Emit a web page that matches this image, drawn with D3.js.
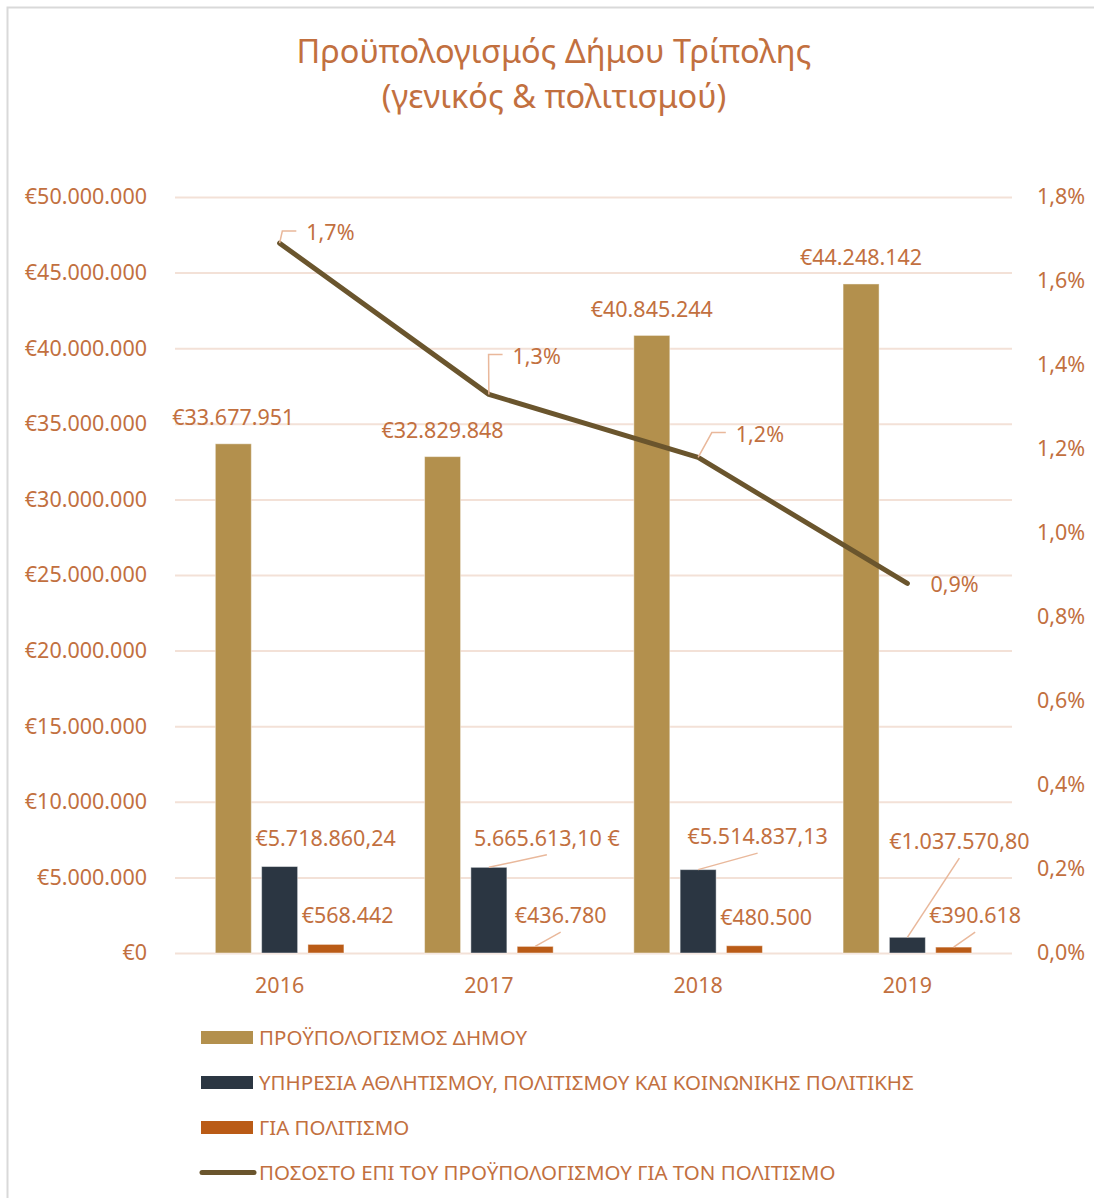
<!DOCTYPE html>
<html>
<head>
<meta charset="utf-8">
<script src="https://cdn.jsdelivr.net/npm/d3@7"></script>
<style>
  body { margin: 0; background: #fff; }
  svg { display: block; font-family: "Noto Sans", "Open Sans", sans-serif; }
</style>
</head>
<body>
<svg id="chart" width="1094" height="1198"></svg>
<script>
// data
var years = ["2016", "2017", "2018", "2019"];
var budget = [33677951, 32829848, 40845244, 44248142];
var sports = [5718860.24, 5665613.10, 5514837.13, 1037570.80];
var culture = [568442, 436780, 480500, 390618];
var share = [1.69, 1.33, 1.18, 0.88];   // % of budget for culture
var sportsLabels = ["€5.718.860,24", "5.665.613,10 €", "€5.514.837,13", "€1.037.570,80"];
var leftTicks = [0, 5e6, 10e6, 15e6, 20e6, 25e6, 30e6, 35e6, 40e6, 45e6, 50e6];
var rightTicks = [0, 0.2, 0.4, 0.6, 0.8, 1.0, 1.2, 1.4, 1.6, 1.8];
var seriesNames = ["ΠΡΟΫΠΟΛΟΓΙΣΜΟΣ ΔΗΜΟΥ",
  "ΥΠΗΡΕΣΙΑ ΑΘΛΗΤΙΣΜΟΥ, ΠΟΛΙΤΙΣΜΟΥ ΚΑΙ ΚΟΙΝΩΝΙΚΗΣ ΠΟΛΙΤΙΚΗΣ",
  "ΓΙΑ ΠΟΛΙΤΙΣΜΟ",
  "ΠΟΣΟΣΤΟ ΕΠΙ ΤΟΥ ΠΡΟΫΠΟΛΟΓΙΣΜΟΥ ΓΙΑ ΤΟΝ ΠΟΛΙΤΙΣΜΟ"];

var textColor = "#c2703f";
var gridColor = "#f3e1d7";
var leaderColor = "#e9b89b";
var colors = {budget: "#b3904d", sports: "#2b3642", culture: "#ba5b16", line: "#6a552d"};

// label placement (moved by hand in the original, so kept as offsets)
var sportsOff = [[46, -28.5, false], [58, -29, true], [59.5, -33, true], [52, -95.6, true]];
var cultureOff = [[21.7, -28.7, false], [25.5, -30.7, true], [21.7, -28.4, false], [21.5, -31.4, true]];
var shareOff = [[26.7, -10.7, true], [23.7, -38.3, true], [37.7, -23.3, true], [23, 1, false]];

var loc = d3.formatLocale({decimal: ",", thousands: ".", grouping: [3], currency: ["€", ""]});
var fmtEur = loc.format("$,.0f");
var fmtPct = function(v) { return loc.format(".1f")(v) + "%"; };

var svg = d3.select("#chart");
var plotLeft = 175, plotRight = 1012, plotTop = 197, plotBottom = 953;

// frame
svg.append("rect").attr("x", 7.5).attr("y", 7.5).attr("width", 1200).attr("height", 1300)
  .attr("fill", "none").attr("stroke", "#d9d9d9").attr("stroke-width", 2);

// title
var title = svg.append("text").attr("text-anchor", "middle").attr("fill", textColor)
  .style("font-size", "32.5px");
title.append("tspan").attr("x", 554).attr("y", 63).text("Προϋπολογισμός Δήμου Τρίπολης");
title.append("tspan").attr("x", 554).attr("y", 108).text("(γενικός & πολιτισμού)");

var x0 = d3.scaleBand().domain(years).range([plotLeft, plotRight]);
var groupW = 128.6;
var x1 = d3.scaleBand().domain(["budget", "sports", "culture"]).range([0, groupW]).paddingInner(0.2225);
var gOff = (x0.bandwidth() - groupW) / 2;
var y = d3.scaleLinear().domain([0, 50e6]).range([plotBottom, plotTop]);
var yR = d3.scaleLinear().domain([0, 1.8]).range([plotBottom, plotTop]);

// gridlines
svg.append("g").attr("class", "grid")
  .attr("transform", "translate(" + plotLeft + ",0)")
  .call(d3.axisLeft(y).tickValues(leftTicks).tickSize(-(plotRight - plotLeft)).tickFormat(""))
  .call(function(g) { g.select(".domain").remove(); })
  .selectAll("line").attr("stroke", gridColor).attr("stroke-width", 2);

// left axis
svg.append("g")
  .attr("transform", "translate(" + 147 + ",0)")
  .call(d3.axisLeft(y).tickValues(leftTicks).tickSize(0).tickPadding(0).tickFormat(fmtEur))
  .call(function(g) { g.select(".domain").remove(); })
  .selectAll("text").attr("fill", textColor).style("font-size", "21.5px").style("font-family", "Noto Sans");

// right axis
svg.append("g")
  .attr("transform", "translate(" + 1037 + ",0)")
  .call(d3.axisRight(yR).tickValues(rightTicks).tickSize(0).tickPadding(0).tickFormat(fmtPct))
  .call(function(g) { g.select(".domain").remove(); })
  .selectAll("text").attr("fill", textColor).style("font-size", "21.5px").style("font-family", "Noto Sans");

// x axis
svg.append("g")
  .attr("transform", "translate(0," + plotBottom + ")")
  .call(d3.axisBottom(x0).tickSize(0).tickPadding(25))
  .call(function(g) { g.select(".domain").remove(); })
  .selectAll("text").attr("fill", textColor).style("font-size", "21.5px").style("font-family", "Noto Sans");

// bars
var series = [["budget", budget], ["sports", sports], ["culture", culture]];
series.forEach(function(s) {
  svg.append("g").selectAll("rect")
    .data(s[1])
    .enter().append("rect")
    .attr("x", function(d, i) { return x0(years[i]) + gOff + x1(s[0]); })
    .attr("y", function(d) { return y(d); })
    .attr("width", x1.bandwidth())
    .attr("height", function(d) { return plotBottom - y(d); })
    .attr("fill", colors[s[0]])
    .attr("stroke", "rgba(255,255,255,0.45)").attr("stroke-width", 1);
});

// line
var lineGen = d3.line()
  .x(function(d, i) { return x0(years[i]) + x0.bandwidth() / 2; })
  .y(function(d) { return yR(d); });
svg.append("path").datum(share)
  .attr("d", lineGen)
  .attr("fill", "none").attr("stroke", colors.line).attr("stroke-width", 5)
  .attr("stroke-linecap", "round").attr("stroke-linejoin", "round");

var labels = svg.append("g").attr("fill", textColor).style("font-size", "21.5px");

// budget labels
budget.forEach(function(v, i) {
  labels.append("text")
    .attr("x", x0(years[i]) + gOff + x1("budget") + x1.bandwidth() / 2)
    .attr("y", y(v) - 26).attr("dy", "0.35em")
    .attr("text-anchor", "middle").text(fmtEur(v));
});

// bar labels with optional leader lines
function barLabels(vals, key, offs, texts) {
  vals.forEach(function(v, i) {
    var cx = x0(years[i]) + gOff + x1(key) + x1.bandwidth() / 2;
    var ty = y(v);
    var lx = cx + offs[i][0], ly = ty + offs[i][1];
    if (offs[i][2]) {
      svg.append("line")
        .attr("x1", cx).attr("y1", ty)
        .attr("x2", lx).attr("y2", ly + 16.5)
        .attr("stroke", leaderColor).attr("stroke-width", 1.5);
    }
    labels.append("text")
      .attr("x", lx).attr("y", ly).attr("dy", "0.35em")
      .attr("text-anchor", "middle").text(texts[i]);
  });
}
barLabels(sports, "sports", sportsOff, sportsLabels);
barLabels(culture, "culture", cultureOff, culture.map(fmtEur));

// line labels
share.forEach(function(v, i) {
  var px = x0(years[i]) + x0.bandwidth() / 2, py = yR(v);
  var tx = px + shareOff[i][0], ty = py + shareOff[i][1];
  if (shareOff[i][2]) {
    svg.append("polyline")
      .attr("points", [[px, py], [tx - 24, ty - 1.5], [tx - 10, ty - 1.5]].join(" "))
      .attr("fill", "none").attr("stroke", leaderColor).attr("stroke-width", 1.5);
  }
  labels.append("text")
    .attr("x", tx).attr("y", ty).attr("dy", "0.35em")
    .text(fmtPct(Math.round(v * 10) / 10));
});

// legend
var legend = svg.append("g").attr("fill", textColor).style("font-size", "20.5px");
seriesNames.forEach(function(name, i) {
  var ly = 1037.5 + i * 45;
  if (i < 3) {
    legend.append("rect").attr("x", 201).attr("y", ly - 6.5).attr("width", 52).attr("height", 13)
      .attr("fill", colors[["budget", "sports", "culture"][i]]);
  } else {
    legend.append("line").attr("x1", 202).attr("x2", 254).attr("y1", ly).attr("y2", ly)
      .attr("stroke", colors.line).attr("stroke-width", 5).attr("stroke-linecap", "round");
  }
  legend.append("text").attr("x", 259).attr("y", ly).attr("dy", "0.35em").text(name);
});
</script>
</body>
</html>
